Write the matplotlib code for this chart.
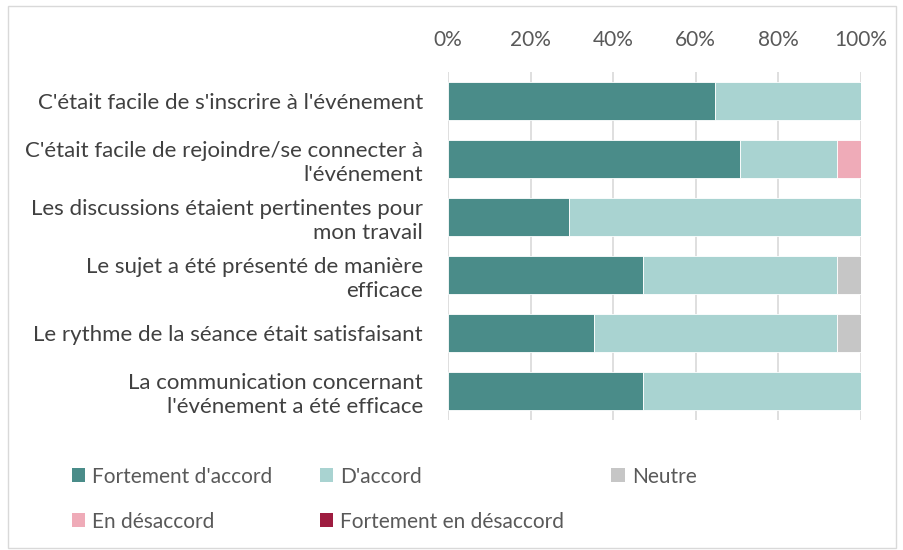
import matplotlib
matplotlib.use("Agg")
import matplotlib.pyplot as plt
from matplotlib.patches import Rectangle, Patch
import numpy as np

plt.rcParams['font.family'] = ['Lato', 'DejaVu Sans']

categories = [
    "C'était facile de s'inscrire à l'événement",
    "C'était facile de rejoindre/se connecter à\nl'événement",
    "Les discussions étaient pertinentes pour\nmon travail",
    "Le sujet a été présenté de manière\nefficace",
    "Le rythme de la séance était satisfaisant",
    "La communication concernant\nl'événement a été efficace",
]
series_names = ["Fortement d'accord", "D'accord", "Neutre", "En désaccord", "Fortement en désaccord"]
fortement_accord = [64.7, 70.6, 29.4, 47.1, 35.3, 47.1]
accord = [35.3, 23.5, 70.6, 47.1, 58.8, 52.9]
neutre = [0, 0, 0, 5.9, 5.9, 0]
desaccord = [0, 5.9, 0, 0, 0, 0]
fortement_desaccord = [0, 0, 0, 0, 0, 0]
tick_values = [0, 20, 40, 60, 80, 100]
colors = ["#4A8C89", "#A9D3D1", "#C6C6C6", "#EFABB8", "#9E1C40"]

series = [fortement_accord, accord, neutre, desaccord, fortement_desaccord]

fig = plt.figure(figsize=(9.04, 5.5), dpi=100)
ax = fig.add_axes([448/904, 1-420/550, (861-448)/904, (420-72)/550])

y = np.arange(len(categories))
left = np.zeros(len(categories))
handles = []
for vals, c, name in zip(series, colors, series_names):
    v = np.array(vals, dtype=float)
    ax.barh(y, v, left=left, height=0.67, color=c, edgecolor='white', linewidth=0.6, zorder=3)
    left += v
    handles.append(Patch(facecolor=c, edgecolor='none', label=name))

ax.set_xlim(0, 100)
ax.set_ylim(5.5, -0.5)
ax.set_xticks(tick_values)
ax.set_xticklabels([f"{t}%" for t in tick_values])
ax.xaxis.tick_top()
ax.tick_params(axis='x', length=0, pad=16, labelsize=15, labelcolor='#595959')
ax.set_yticks(y)
ax.set_yticklabels(categories, fontsize=16, color='#404040', linespacing=1.25)
ax.tick_params(axis='y', length=0, pad=18)
for lbl in ax.get_yticklabels():
    lbl.set_horizontalalignment('right')
    lbl.set_multialignment('right')
ax.grid(axis='x', color='#D9D9D9', linewidth=1.2, zorder=0)
for s in ax.spines.values():
    s.set_visible(False)

order = [0, 3, 1, 4, 2]
fig.legend([handles[i] for i in order], [series_names[i] for i in order],
           ncol=3, loc='upper left', bbox_to_anchor=(57/904, 1-452/550),
           frameon=False, fontsize=15, labelcolor='#595959',
           handlelength=0.65, handleheight=0.65, handletextpad=0.35,
           columnspacing=2.25, labelspacing=1.2, borderpad=0.2)

fig.patches.append(Rectangle((8/904, 0.003), 1-16/904, 1-8/550, transform=fig.transFigure,
                             fill=False, edgecolor='#D9D9D9', linewidth=1))

fig.savefig("out.png", dpi=100)
